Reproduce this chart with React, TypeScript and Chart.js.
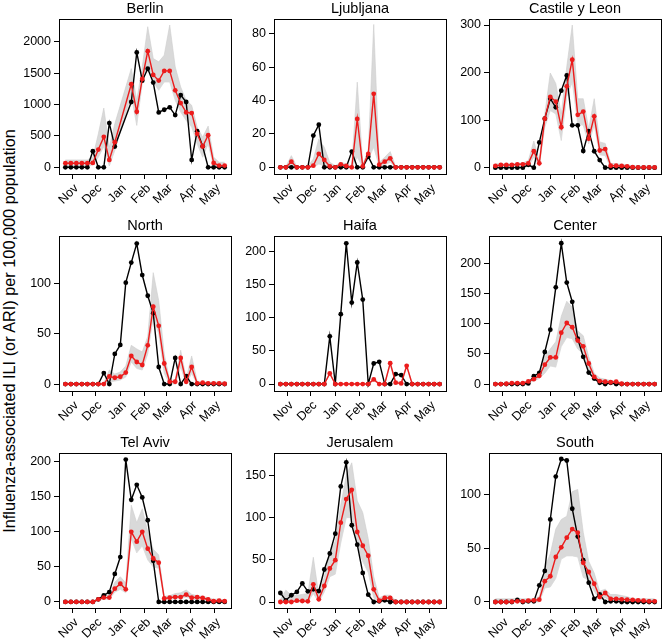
import React, { useEffect, useRef } from 'react';
import { Chart, registerables } from 'chart.js';
Chart.register(...registerables);

const FONT = '"Liberation Sans", Arial, Helvetica, sans-serif';

const weeks = [0, 1, 2, 3, 4, 5, 6, 7, 8, 9, 10, 11, 12, 13, 14, 15, 16, 17, 18, 19, 20, 21, 22, 23, 24, 25, 26, 27, 28, 29];
const monthTicks = [1.29, 5.57, 10, 14.43, 18.43, 22.86, 27.14];
const monthLabels = ['Nov', 'Dec', 'Jan', 'Feb', 'Mar', 'Apr', 'May'];
const yAxisTitle = 'Influenza-associated ILI (or ARI) per 100,000 population';

// Berlin
const berlinObs = [0, 0, 0, 0, 0, 256, 0, 0, 704, 330, null, null, 1040, 1830, 1380, 1570, 1350, 875, 917, 955, 832, 1150, 1040, 117, 576, 336, 0, 0, 0, 0];
const berlinPred = [65, 65, 65, 65, 65, 70, 283, 485, 117, 400, null, null, 1323, 885, 1408, 1850, 1472, 1381, 1536, 1536, 1227, 1024, 875, 864, 533, 331, 512, 69, 27, 27];
const berlinLo = [11, 11, 11, 11, 11, 40, 160, 330, 20, 267, null, null, 1147, 667, 1333, 1627, 1360, 1227, 1360, 1360, 1067, 880, 747, 640, 373, 160, 373, 10, 0, 0];
const berlinHi = [117, 117, 117, 117, 117, 160, 533, 944, 320, 693, null, null, 1573, 1067, 1600, 2240, 1733, 1680, 1787, 2267, 1600, 1280, 1067, 987, 640, 480, 656, 160, 80, 80];
const berlinTicks = [0, 500, 1000, 1500, 2000];

// Ljubljana
const ljubObs = [0, 0, 0, 0, 0, 0, 19, 25.5, 0, 0, 0, 0, 0, 9.4, 0, 0, 6.4, 0, 0, 0, 0, 0, 0, 0, 0, 0, 0, 0, 0, 0];
const ljubPred = [0, 0, 3.4, 0, 0, 0, 1, 8, 4.4, 0.6, 0, 1.8, 0.8, 0, 29, 0.6, 8, 44, 1.6, 3.4, 5.4, 0, 0, 0, 0, 0, 0, 0, 0, 0];
const ljubLo = [0, 0, 0.5, 0, 0, 0, 0, 2, 1, 0, 0, 0.5, 0, 0, 6, 0, 5, 12, 0.5, 1.5, 3, 0, 0, 0, 0, 0, 0, 0, 0, 0];
const ljubHi = [0.5, 0.5, 7, 0.5, 0.5, 0.5, 5, 17, 12, 3, 1, 3, 2, 1, 51, 2, 10, 85.5, 3, 6, 9.4, 0.5, 0.5, 0.5, 0.5, 0.5, 0.5, 0.5, 0.5, 0.5];
const ljubTicks = [0, 20, 40, 60, 80];

// Castile y Leon
const castObs = [0, 0, 0, 0, 0, 0, 6, 0, 53, 103, 145, 127, 162, 194, 89, 89, 35, 77, 34.5, 16, 0, 0, 0, 0, 0, 0, 0, 0, 0, 0];
const castPred = [3.5, 5.6, 5.6, 5.6, 7, 7, 9, 34.5, 9, 103, 149, 139, 85, 171, 227, 111, 118, 61, 108, 36, 39, 4, 4, 3.5, 2.8, 1, 0.5, 0.5, 0.5, 0.5];
const castLo = [0, 0, 0, 0, 0, 0, 3, 22, 3, 85, 120, 113, 57, 149, 180, 92, 89, 50, 89, 27, 25, 0, 0, 0, 0, 0, 0, 0, 0, 0];
const castHi = [8, 8, 8, 8, 9, 10, 15, 56, 15, 113, 199, 177, 113, 212, 300, 145, 145, 82, 145, 54, 51, 9, 8, 7, 6, 4, 3, 3, 3, 3];
const castTicks = [0, 100, 200, 300];

// North
const northObs = [0, 0, 0, 0, 0, 0, 0, 11, 0, 30, 39, 101, 121, 140, 108.6, 88, 70.6, 17, 0, 0, 26, 0, 8, 0, 0, 0, 0, 0, 0, 0];
const northPred = [0, 0, 0, 0, 0, 0, 0, 0, 7.6, 6.3, 7.3, 11.5, 28, 22, 19, 38.6, 77, 58, 20.5, 2.3, 2.3, 26, 2.3, 17, 0.7, 1.3, 0.7, 0.7, 0.7, 0.3];
const northLo = [0, 0, 0, 0, 0, 0, 0, 0, 2, 3, 4, 7, 22, 15.5, 14, 30, 66.7, 50, 10.6, 0, 0, 17, 0, 10.6, 0, 0, 0, 0, 0, 0];
const northHi = [0.5, 0.5, 0.5, 0.5, 0.5, 0.5, 0.5, 1, 14, 10, 12, 18, 38.6, 35, 32, 47.5, 111, 83, 30, 4, 4, 33.7, 5.6, 28, 3, 2, 2, 2, 2, 2];
const northTicks = [0, 50, 100];

// Haifa
const haifaObs = [0, 0, 0, 0, 0, 0, 0, 0, 0, 72, 0, 105.5, 212.5, 123, 183.5, 127.5, 0, 31, 33.5, 0, 0, 15, 13.5, 0, 0, 0, 0, 0, 0, 0];
const haifaPred = [0, 0, 0, 0, 0, 0, 0, 0, 0, 16, 0, 0, 0, 0, 0, 0, 0, 7, 0, 0, 31.5, 2, 1, 27.5, 0, 0, 0, 0, 0, 0];
const haifaLo = [0, 0, 0, 0, 0, 0, 0, 0, 0, 14, 0, 0, 0, 0, 0, 0, 0, 5, 0, 0, 29, 0.5, 0, 25, 0, 0, 0, 0, 0, 0];
const haifaHi = [0.5, 0.5, 0.5, 0.5, 0.5, 0.5, 0.5, 0.5, 0.5, 18, 0.5, 0.5, 0.5, 0.5, 0.5, 0.5, 0.5, 9, 0.5, 0.5, 34, 4, 3, 30, 0.5, 0.5, 0.5, 0.5, 0.5, 0.5];
const haifaTicks = [0, 50, 100, 150, 200];

// Center
const centerObs = [0, 0, 0, 0, 0, 0, 1, 13, 18.6, 53, 90, 160, 233, 168, 136, 75, 45, 19, 9, 2, 0, 2, 0, 0, 0, 0, 0, 0, 0, 0];
const centerPred = [0, 0, 0.5, 1.6, 1.6, 1.6, 4.4, 8, 13.7, 32, 44, 44, 85, 101, 94, 72, 62.5, 34, 12, 5, 3.8, 3, 3.8, 0.5, 0, 0, 0, 0, 0, 0];
const centerLo = [0, 0, 0, 0, 0, 0, 2, 5, 9, 18, 30, 28, 62, 77, 75, 58, 50, 22, 7, 2, 1, 0, 0, 0, 0, 0, 0, 0, 0, 0];
const centerHi = [1, 1, 2, 2, 2, 3, 6, 11, 20, 45, 58, 70, 112, 137, 127, 88, 80, 45, 18, 10, 8, 6, 5, 2, 2, 2, 2, 2, 2, 2];
const centerTicks = [0, 50, 100, 150, 200];

// Tel Aviv
const telObs = [0, 0, 0, 0, 0, 0, 3.8, 9.5, 14, 40, 64, 203, 145.6, 167, 149, 116.5, 58.7, 0, 0, 0, 0, 0, 0, 0, 0, 0, 0, 0, 0, 0];
const telPred = [0, 0, 0, 0, 0, 0, 3.8, 6.2, 6.2, 19, 26, 18, 100, 86, 100, 76, 62, 56, 5, 6, 7, 7, 10.5, 6, 6.7, 5.7, 3.8, 1, 2, 1];
const telLo = [0, 0, 0, 0, 0, 0, 2, 4, 4, 14, 18, 13, 90, 70, 80, 60, 50, 48, 3, 4, 5, 5, 7, 4, 3, 3, 2, 0, 0, 0];
const telHi = [0.5, 0.5, 0.5, 0.5, 0.5, 0.5, 5, 9, 9, 28, 36, 27, 138, 113, 133, 100, 75, 67, 8, 9, 12, 13, 17, 11, 9, 8, 6, 4, 4, 3];
const telTicks = [0, 50, 100, 150, 200];

// Jerusalem
const jerObs = [10.7, 2, 8, 12, 22, 12.7, 15, 13, 38.5, 57.5, 81, 137, 165.5, 91, 68, 34.5, 8.7, 0, 0.8, 2, 0, 0, 0, 0, 0, 0, 0, 0, 0, 0];
const jerPred = [0, 0, 0, 1.6, 1.2, 0.8, 21, 3.2, 19, 39.7, 49.6, 94, 122, 133, 83, 66.7, 54.8, 15, 1.6, 4.8, 4.8, 0, 0, 0, 0, 0, 0, 0, 0, 0];
const jerLo = [0, 0, 0, 0, 0, 0, 10, 0, 12, 30, 33, 70, 100, 100, 65, 48, 35, 5, 0, 2, 2, 0, 0, 0, 0, 0, 0, 0, 0, 0];
const jerHi = [3, 14, 8, 8, 9, 10, 53, 8, 30, 58, 72, 115, 150, 165, 120, 106, 75, 30, 5, 8, 8, 2, 1, 1, 1, 1, 1, 1, 1, 1];
const jerTicks = [0, 50, 100, 150];

// South
const southObs = [0, 0, 0, 0, 1.9, 0, 0.6, 0.6, 15.6, 29, 77, 117, 133.4, 132, 87, 61, 39, 18, 3, 7, 0, 0.6, 0.6, 0, 0, 0, 0, 0, 0, 0];
const southPred = [0, 0, 0, 0.3, 0.6, 0.6, 1.2, 1.6, 2.2, 19.4, 24, 42, 51, 60, 68, 64.7, 36.6, 28, 17, 4.7, 8.4, 3, 3, 2.5, 2.2, 1.9, 1.6, 1.2, 0.6, 0.6];
const southLo = [0, 0, 0, 0, 0, 0, 0, 0, 0, 13, 14, 22, 40, 43, 43, 42, 23, 20, 10, 2, 4, 1, 1, 0, 0, 0, 0, 0, 0, 0];
const southHi = [3, 3, 3, 3, 3, 3, 3, 3, 5, 32, 45, 68, 77, 80, 103, 105, 65, 38, 27, 10, 12, 7, 7, 6, 5, 3, 3, 3, 3, 3];
const southTicks = [0, 50, 100];

const panels = [
  { title: 'Berlin', obs: berlinObs, pred: berlinPred, lo: berlinLo, hi: berlinHi, ticks: berlinTicks, yMin: -107, yMax: 2363 },
  { title: 'Ljubljana', obs: ljubObs, pred: ljubPred, lo: ljubLo, hi: ljubHi, ticks: ljubTicks, yMin: -4.0, yMax: 88.8 },
  { title: 'Castile y Leon', obs: castObs, pred: castPred, lo: castLo, hi: castHi, ticks: castTicks, yMin: -13.4, yMax: 312.7 },
  { title: 'North', obs: northObs, pred: northPred, lo: northLo, hi: northHi, ticks: northTicks, yMin: -6.9, yMax: 147.5 },
  { title: 'Haifa', obs: haifaObs, pred: haifaPred, lo: haifaLo, hi: haifaHi, ticks: haifaTicks, yMin: -10.5, yMax: 223.5 },
  { title: 'Center', obs: centerObs, pred: centerPred, lo: centerLo, hi: centerHi, ticks: centerTicks, yMin: -11.5, yMax: 245 },
  { title: 'Tel Aviv', obs: telObs, pred: telPred, lo: telLo, hi: telHi, ticks: telTicks, yMin: -8.6, yMax: 212.4 },
  { title: 'Jerusalem', obs: jerObs, pred: jerPred, lo: jerLo, hi: jerHi, ticks: jerTicks, yMin: -7.1, yMax: 176.6 },
  { title: 'South', obs: southObs, pred: southPred, lo: southLo, hi: southHi, ticks: southTicks, yMin: -5.6, yMax: 139 },
];

const RED = 'rgb(236, 28, 28)';
const BAND = 'rgb(217, 217, 217)';

const toXY = (arr: (number | null)[]) => arr.map((v, i) => ({ x: weeks[i], y: v }));

const frameAndTitle = {
  id: 'frameAndTitle',
  afterDraw(chart: any) {
    const { ctx, chartArea } = chart;
    const { left, top, right, bottom } = chartArea;
    ctx.save();
    ctx.strokeStyle = '#000';
    ctx.lineWidth = 1;
    ctx.strokeRect(Math.round(left) + 0.5, Math.round(top) + 0.5, Math.round(right - left), Math.round(bottom - top));
    ctx.fillStyle = '#000';
    ctx.font = `14.5px ${FONT}`;
    ctx.textAlign = 'center';
    ctx.textBaseline = 'middle';
    ctx.fillText(chart.options.plugins.panelTitle.text, (left + right) / 2, 9);
    ctx.restore();
  },
};

function Panel({ p, left, top }: any) {
  const ref = useRef<HTMLCanvasElement>(null);
  useEffect(() => {
    const chart = new Chart(ref.current as HTMLCanvasElement, {
      type: 'line',
      data: {
        datasets: [
          {
            data: toXY(p.pred), borderColor: RED, backgroundColor: RED, borderWidth: 1.4,
            pointRadius: 2.4, pointBackgroundColor: RED, pointBorderWidth: 0, spanGaps: true, fill: false,
          },
          {
            data: toXY(p.obs), borderColor: '#000', backgroundColor: '#000', borderWidth: 1.4,
            pointRadius: 2.4, pointBackgroundColor: '#000', pointBorderWidth: 0, spanGaps: true, fill: false,
          },
          {
            data: toXY(p.hi), borderColor: 'rgb(205,205,205)', borderWidth: 0.6, pointRadius: 0,
            backgroundColor: BAND, fill: '+1', spanGaps: true,
          },
          {
            data: toXY(p.lo), borderColor: 'rgb(205,205,205)', borderWidth: 0.6, pointRadius: 0,
            fill: false, spanGaps: true,
          },
        ],
      },
      options: {
        animation: false,
        responsive: false,
        events: [],
        layout: { padding: { top: 19, right: 3, left: 0, bottom: 0 } },
        plugins: {
          legend: { display: false },
          tooltip: { enabled: false },
          title: { display: false },
          panelTitle: { text: p.title },
        } as any,
        scales: {
          x: {
            type: 'linear',
            min: -1.16,
            max: 30.16,
            afterBuildTicks: (s: any) => { s.ticks = monthTicks.map((v) => ({ value: v })); },
            afterFit: (s: any) => { s.height = 36; },
            ticks: {
              autoSkip: false, minRotation: 45, maxRotation: 45, color: '#000', padding: 2, labelOffset: 4,
              font: { family: FONT, size: 12.5 },
              callback: (_v: any, i: number) => monthLabels[i],
            },
            grid: { drawOnChartArea: false, drawTicks: true, tickLength: 5, color: '#000', lineWidth: 1 },
            border: { display: false },
          },
          y: {
            type: 'linear',
            min: p.yMin,
            max: p.yMax,
            afterBuildTicks: (s: any) => { s.ticks = p.ticks.map((v: number) => ({ value: v })); },
            afterFit: (s: any) => { s.width = 39; },
            ticks: {
              color: '#000', padding: 3, font: { family: FONT, size: 12.5 },
              callback: (v: any) => String(v),
            },
            grid: { drawOnChartArea: false, drawTicks: true, tickLength: 5, color: '#000', lineWidth: 1 },
            border: { display: false },
          },
        },
      },
      plugins: [frameAndTitle],
    } as any);
    return () => chart.destroy();
  }, []);
  return (
    <canvas
      ref={ref}
      width={215}
      height={210}
      style={{ position: 'absolute', left, top, width: 215, height: 210 }}
    />
  );
}

export default function App() {
  return (
    <div style={{ position: 'absolute', left: 0, top: 0, width: 666, height: 644, overflow: 'hidden', background: '#fff' }}>
      {panels.map((p, i) => (
        <Panel key={p.title} p={p} left={20 + 215 * (i % 3)} top={217 * Math.floor(i / 3)} />
      ))}
      <div
        style={{
          position: 'absolute', left: 9, top: 331, transform: 'translate(-50%, -50%) rotate(-90deg)',
          whiteSpace: 'nowrap', font: `16.3px ${FONT}`, color: '#000',
        }}
      >
        {yAxisTitle}
      </div>
    </div>
  );
}
